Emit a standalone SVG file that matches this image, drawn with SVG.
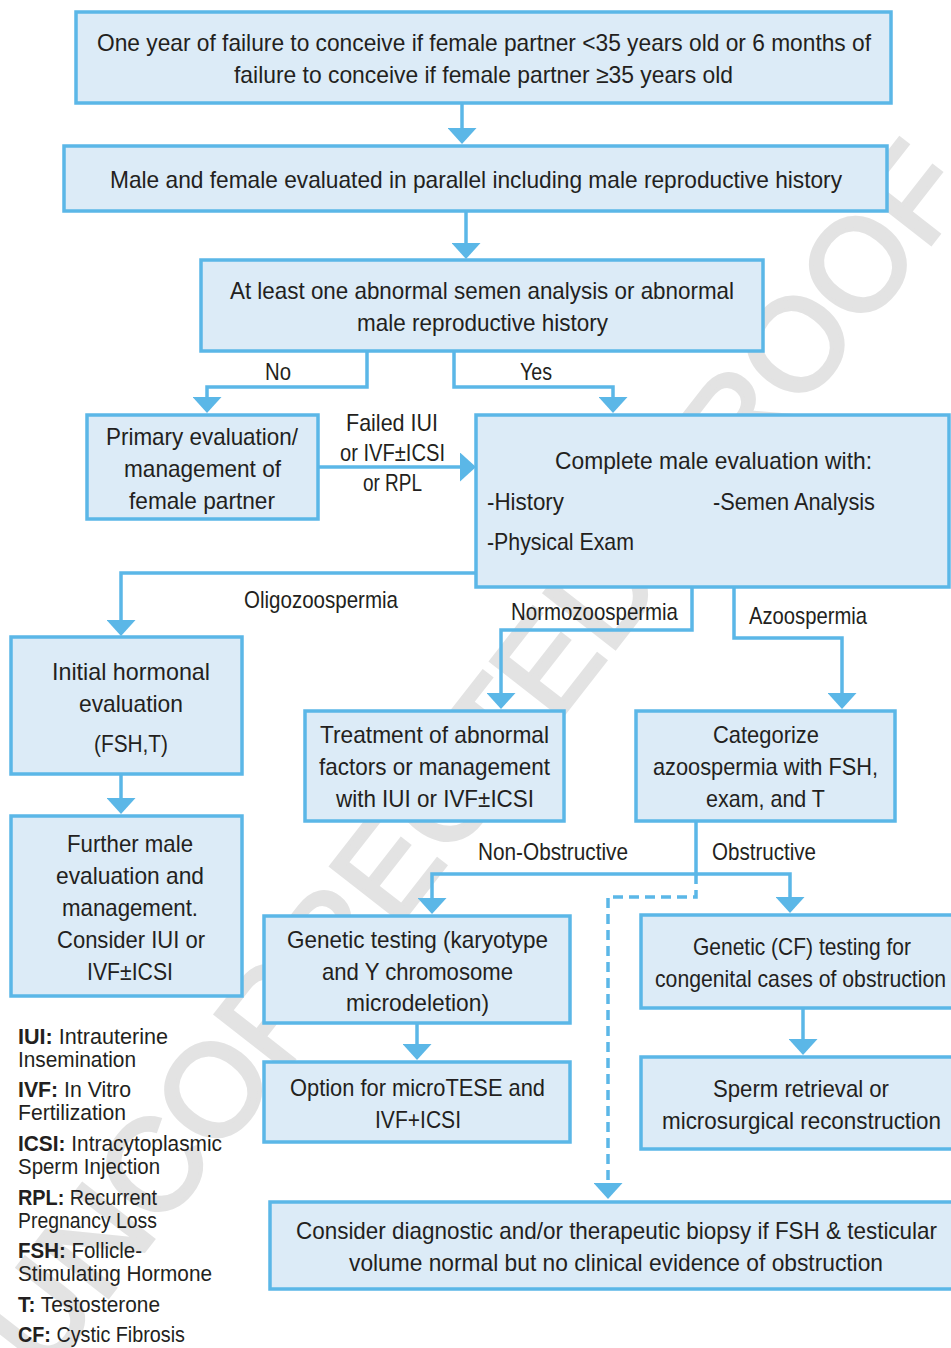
<svg xmlns="http://www.w3.org/2000/svg" width="951" height="1348" viewBox="0 0 951 1348">
<defs>
<style>
.bg{fill:#ffffff}
.wm{font-family:"Liberation Sans",Arial,sans-serif;font-size:130px;fill:#e3e3e3;stroke:#e3e3e3;stroke-width:4}
.box{fill:#dcebf7;stroke:#5bb7e7;stroke-width:3.5}
.t{font-family:"Liberation Sans",Arial,sans-serif;font-size:24px;fill:#231f20}
.lg{font-family:"Liberation Sans",Arial,sans-serif;font-size:22px;fill:#231f20}
.c{fill:none;stroke:#5bb7e7;stroke-width:3.5;marker-end:url(#ah)}
.d{stroke-dasharray:10 6}
</style>
<marker id="ah" markerUnits="userSpaceOnUse" markerWidth="16" markerHeight="29" viewBox="0 0 16 29" refX="12" refY="14.5" orient="auto">
<path d="M0,0 L16,14.5 L0,29 Z" fill="#5bb7e7"/>
</marker>
</defs>
<rect class="bg" x="0" y="0" width="951" height="1348"/>
<text class="wm" x="44" y="1379" transform="rotate(-52 44 1379)">UNCORRECTED PROOF</text>

<g id="connectors">
<path class="c" d="M462,103 V140"/>
<path class="c" d="M466,211 V255"/>
<path class="c" d="M367,351 V387 H207 V409"/>
<path class="c" d="M454,351 V387 H613 V409"/>
<path class="c" d="M318,467 H472"/>
<path class="c" d="M476,573 H121 V632"/>
<path class="c" d="M692,587 V630 H501 V705"/>
<path class="c" d="M734,587 V638 H842 V705"/>
<path class="c" d="M121,774 V810"/>
<path class="c" d="M696,821 V874 H432 V910"/>
<path class="c" d="M696,874 H790 V909"/>
<path class="c d" d="M696,874 V897 H608 V1195"/>
<path class="c" d="M417,1023 V1056"/>
<path class="c" d="M803,1008 V1051"/>
<text class="t" x="265" y="380" textLength="26" lengthAdjust="spacingAndGlyphs">No</text>
<text class="t" x="520" y="380" textLength="32" lengthAdjust="spacingAndGlyphs">Yes</text>
<text class="t" x="346" y="431" textLength="92" lengthAdjust="spacingAndGlyphs">Failed  IUI</text>
<text class="t" x="340" y="461" textLength="105" lengthAdjust="spacingAndGlyphs">or IVF±ICSI</text>
<text class="t" x="363" y="491" textLength="59" lengthAdjust="spacingAndGlyphs">or RPL</text>
<text class="t" x="244" y="608" textLength="154" lengthAdjust="spacingAndGlyphs">Oligozoospermia</text>
<text class="t" x="511" y="620" textLength="167" lengthAdjust="spacingAndGlyphs">Normozoospermia</text>
<text class="t" x="749" y="624" textLength="118" lengthAdjust="spacingAndGlyphs">Azoospermia</text>
<text class="t" x="478" y="860" textLength="150" lengthAdjust="spacingAndGlyphs">Non-Obstructive</text>
<text class="t" x="712" y="860" textLength="104" lengthAdjust="spacingAndGlyphs">Obstructive</text>
</g>

<g id="n-start">
<rect class="box" x="76" y="12" width="815" height="91"/>
<text class="t" x="97" y="51" textLength="774" lengthAdjust="spacingAndGlyphs">One year of failure to conceive if female partner &lt;35 years old or 6 months of</text>
<text class="t" x="234" y="83" textLength="499" lengthAdjust="spacingAndGlyphs">failure to conceive if female partner ≥35 years old</text>
</g>

<g id="n-parallel">
<rect class="box" x="64" y="146" width="823" height="65"/>
<text class="t" x="110" y="188" textLength="732" lengthAdjust="spacingAndGlyphs">Male and female evaluated in parallel including male reproductive history</text>
</g>

<g id="n-abnormal">
<rect class="box" x="201" y="260" width="562" height="91"/>
<text class="t" x="230" y="299" textLength="504" lengthAdjust="spacingAndGlyphs">At least one abnormal semen analysis or abnormal</text>
<text class="t" x="357" y="331" textLength="251" lengthAdjust="spacingAndGlyphs">male reproductive history</text>
</g>

<g id="n-female">
<rect class="box" x="87" y="415" width="231" height="104"/>
<text class="t" x="106" y="445" textLength="192" lengthAdjust="spacingAndGlyphs">Primary evaluation/</text>
<text class="t" x="124" y="477" textLength="157" lengthAdjust="spacingAndGlyphs">management of</text>
<text class="t" x="129" y="509" textLength="146" lengthAdjust="spacingAndGlyphs">female partner</text>
</g>

<g id="n-complete">
<rect class="box" x="476" y="415" width="473" height="172"/>
<text class="t" x="555" y="469" textLength="317" lengthAdjust="spacingAndGlyphs">Complete male evaluation with:</text>
<text class="t" x="487" y="510" textLength="77" lengthAdjust="spacingAndGlyphs">-History</text>
<text class="t" x="713" y="510" textLength="162" lengthAdjust="spacingAndGlyphs">-Semen Analysis</text>
<text class="t" x="487" y="550" textLength="147" lengthAdjust="spacingAndGlyphs">-Physical Exam</text>
</g>

<g id="n-hormonal">
<rect class="box" x="11" y="637" width="231" height="137"/>
<text class="t" x="52" y="680" textLength="158" lengthAdjust="spacingAndGlyphs">Initial hormonal</text>
<text class="t" x="79" y="712" textLength="104" lengthAdjust="spacingAndGlyphs">evaluation</text>
<text class="t" x="94" y="752" textLength="74" lengthAdjust="spacingAndGlyphs">(FSH,T)</text>
</g>

<g id="n-further">
<rect class="box" x="11" y="816" width="231" height="180"/>
<text class="t" x="67" y="852" textLength="126" lengthAdjust="spacingAndGlyphs">Further male</text>
<text class="t" x="56" y="884" textLength="148" lengthAdjust="spacingAndGlyphs">evaluation and</text>
<text class="t" x="62" y="916" textLength="136" lengthAdjust="spacingAndGlyphs">management.</text>
<text class="t" x="57" y="948" textLength="148" lengthAdjust="spacingAndGlyphs">Consider IUI or</text>
<text class="t" x="87" y="980" textLength="86" lengthAdjust="spacingAndGlyphs">IVF±ICSI</text>
</g>

<g id="n-treatment">
<rect class="box" x="305" y="711" width="259" height="110"/>
<text class="t" x="320" y="743" textLength="229" lengthAdjust="spacingAndGlyphs">Treatment of abnormal</text>
<text class="t" x="319" y="775" textLength="231" lengthAdjust="spacingAndGlyphs">factors or management</text>
<text class="t" x="336" y="807" textLength="198" lengthAdjust="spacingAndGlyphs">with IUI or IVF±ICSI</text>
</g>

<g id="n-categorize">
<rect class="box" x="636" y="711" width="259" height="110"/>
<text class="t" x="713" y="743" textLength="106" lengthAdjust="spacingAndGlyphs">Categorize</text>
<text class="t" x="653" y="775" textLength="225" lengthAdjust="spacingAndGlyphs">azoospermia with FSH,</text>
<text class="t" x="706" y="807" textLength="119" lengthAdjust="spacingAndGlyphs">exam, and T</text>
</g>

<g id="n-genetic">
<rect class="box" x="264" y="916" width="306" height="107"/>
<text class="t" x="287" y="948" textLength="261" lengthAdjust="spacingAndGlyphs">Genetic testing (karyotype</text>
<text class="t" x="322" y="980" textLength="191" lengthAdjust="spacingAndGlyphs">and Y chromosome</text>
<text class="t" x="346" y="1011" textLength="143" lengthAdjust="spacingAndGlyphs">microdeletion)</text>
</g>

<g id="n-option">
<rect class="box" x="264" y="1062" width="306" height="80"/>
<text class="t" x="290" y="1096" textLength="255" lengthAdjust="spacingAndGlyphs">Option for microTESE and</text>
<text class="t" x="375" y="1128" textLength="86" lengthAdjust="spacingAndGlyphs">IVF+ICSI</text>
</g>

<g id="n-cf">
<rect class="box" x="641" y="915" width="322" height="93"/>
<text class="t" x="693" y="955" textLength="218" lengthAdjust="spacingAndGlyphs">Genetic (CF) testing for</text>
<text class="t" x="655" y="987" textLength="291" lengthAdjust="spacingAndGlyphs">congenital cases of obstruction</text>
</g>

<g id="n-sperm">
<rect class="box" x="641" y="1057" width="322" height="92"/>
<text class="t" x="713" y="1097" textLength="176" lengthAdjust="spacingAndGlyphs">Sperm retrieval or</text>
<text class="t" x="662" y="1129" textLength="279" lengthAdjust="spacingAndGlyphs">microsurgical reconstruction</text>
</g>

<g id="n-biopsy">
<rect class="box" x="270" y="1202" width="692" height="87"/>
<text class="t" x="296" y="1239" textLength="641" lengthAdjust="spacingAndGlyphs">Consider diagnostic and/or therapeutic biopsy if FSH &amp; testicular</text>
<text class="t" x="349" y="1271" textLength="534" lengthAdjust="spacingAndGlyphs">volume normal but no clinical evidence of obstruction</text>
</g>

<g id="legend">
<text class="lg" x="18" y="1044" textLength="150" lengthAdjust="spacingAndGlyphs"><tspan font-weight="bold">IUI:</tspan> Intrauterine</text>
<text class="lg" x="18" y="1067" textLength="118" lengthAdjust="spacingAndGlyphs">Insemination</text>
<text class="lg" x="18" y="1097" textLength="113" lengthAdjust="spacingAndGlyphs"><tspan font-weight="bold">IVF:</tspan> In Vitro</text>
<text class="lg" x="18" y="1120" textLength="108" lengthAdjust="spacingAndGlyphs">Fertilization</text>
<text class="lg" x="18" y="1151" textLength="204" lengthAdjust="spacingAndGlyphs"><tspan font-weight="bold">ICSI:</tspan> Intracytoplasmic</text>
<text class="lg" x="18" y="1174" textLength="142" lengthAdjust="spacingAndGlyphs">Sperm Injection</text>
<text class="lg" x="18" y="1205" textLength="139" lengthAdjust="spacingAndGlyphs"><tspan font-weight="bold">RPL:</tspan> Recurrent</text>
<text class="lg" x="18" y="1228" textLength="139" lengthAdjust="spacingAndGlyphs">Pregnancy Loss</text>
<text class="lg" x="18" y="1258" textLength="124" lengthAdjust="spacingAndGlyphs"><tspan font-weight="bold">FSH:</tspan> Follicle-</text>
<text class="lg" x="18" y="1281" textLength="194" lengthAdjust="spacingAndGlyphs">Stimulating Hormone</text>
<text class="lg" x="18" y="1312" textLength="142" lengthAdjust="spacingAndGlyphs"><tspan font-weight="bold">T:</tspan> Testosterone</text>
<text class="lg" x="18" y="1342" textLength="167" lengthAdjust="spacingAndGlyphs"><tspan font-weight="bold">CF:</tspan> Cystic Fibrosis</text>
</g>
</svg>
